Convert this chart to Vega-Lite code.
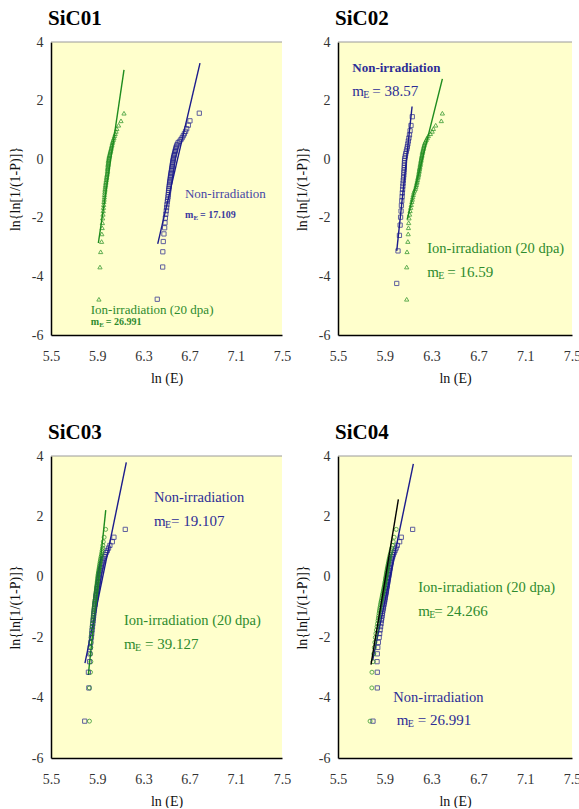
{
"$schema": "https://vega.github.io/schema/vega-lite/v6.json",
"padding": {"left": 8, "top": 8, "right": 0, "bottom": 0},
"background": "white",
"config": {
 "view": {"fill": "#FFFFCC", "stroke": null},
 "font": "Liberation Serif",
 "axis": {"grid": false, "ticks": false, "domainColor": "#000", "domainWidth": 1.5, "labelFont": "Liberation Serif", "labelFontSize": 14, "labelColor": "#333", "titleFont": "Liberation Serif", "titleFontSize": 14, "titleFontWeight": "normal", "titleColor": "#111", "labelOverlap": false, "labelFlush": false},
 "axisX": {"labelPadding": 14, "titlePadding": 8},
 "axisY": {"labelPadding": 8, "titlePadding": 9},
 "title": {"font": "Liberation Serif", "fontSize": 21, "fontWeight": "bold", "anchor": "start", "frame": "group", "color": "#000", "offset": 6, "dx": -3},
 "concat": {"spacing": 4}
},
"datasets": {
"pts": [
{"p":1,"s":"I","x":5.915,"y":-4.78},{"p":1,"s":"I","x":5.924,"y":-3.68},{"p":1,"s":"I","x":5.930,"y":-3.16},{"p":1,"s":"I","x":5.938,"y":-2.81},{"p":1,"s":"I","x":5.940,"y":-2.55},{"p":1,"s":"I","x":5.943,"y":-2.34},{"p":1,"s":"I","x":5.945,"y":-2.17},{"p":1,"s":"I","x":5.947,"y":-2.01},{"p":1,"s":"I","x":5.950,"y":-1.88},{"p":1,"s":"I","x":5.952,"y":-1.76},
{"p":1,"s":"I","x":5.954,"y":-1.65},{"p":1,"s":"I","x":5.956,"y":-1.55},{"p":1,"s":"I","x":5.958,"y":-1.45},{"p":1,"s":"I","x":5.960,"y":-1.37},{"p":1,"s":"I","x":5.962,"y":-1.29},{"p":1,"s":"I","x":5.963,"y":-1.21},{"p":1,"s":"I","x":5.965,"y":-1.13},{"p":1,"s":"I","x":5.967,"y":-1.06},{"p":1,"s":"I","x":5.968,"y":-1.00},{"p":1,"s":"I","x":5.970,"y":-0.93},
{"p":1,"s":"I","x":5.972,"y":-0.87},{"p":1,"s":"I","x":5.974,"y":-0.81},{"p":1,"s":"I","x":5.976,"y":-0.76},{"p":1,"s":"I","x":5.978,"y":-0.70},{"p":1,"s":"I","x":5.980,"y":-0.64},{"p":1,"s":"I","x":5.982,"y":-0.59},{"p":1,"s":"I","x":5.984,"y":-0.54},{"p":1,"s":"I","x":5.986,"y":-0.49},{"p":1,"s":"I","x":5.988,"y":-0.44},{"p":1,"s":"I","x":5.989,"y":-0.39},
{"p":1,"s":"I","x":5.990,"y":-0.34},{"p":1,"s":"I","x":5.991,"y":-0.30},{"p":1,"s":"I","x":5.992,"y":-0.25},{"p":1,"s":"I","x":5.993,"y":-0.20},{"p":1,"s":"I","x":5.994,"y":-0.16},{"p":1,"s":"I","x":5.995,"y":-0.11},{"p":1,"s":"I","x":5.996,"y":-0.06},{"p":1,"s":"I","x":5.998,"y":-0.02},{"p":1,"s":"I","x":6.000,"y":0.03},{"p":1,"s":"I","x":6.002,"y":0.07},
{"p":1,"s":"I","x":6.004,"y":0.12},{"p":1,"s":"I","x":6.007,"y":0.16},{"p":1,"s":"I","x":6.010,"y":0.21},{"p":1,"s":"I","x":6.013,"y":0.26},{"p":1,"s":"I","x":6.016,"y":0.30},{"p":1,"s":"I","x":6.019,"y":0.35},{"p":1,"s":"I","x":6.022,"y":0.40},{"p":1,"s":"I","x":6.025,"y":0.45},{"p":1,"s":"I","x":6.028,"y":0.50},{"p":1,"s":"I","x":6.031,"y":0.56},
{"p":1,"s":"I","x":6.035,"y":0.61},{"p":1,"s":"I","x":6.040,"y":0.67},{"p":1,"s":"I","x":6.045,"y":0.73},{"p":1,"s":"I","x":6.050,"y":0.80},{"p":1,"s":"I","x":6.056,"y":0.87},{"p":1,"s":"I","x":6.063,"y":0.95},{"p":1,"s":"I","x":6.070,"y":1.04},{"p":1,"s":"I","x":6.085,"y":1.16},{"p":1,"s":"I","x":6.106,"y":1.31},{"p":1,"s":"I","x":6.132,"y":1.57},

{"p":1,"s":"N","x":6.420,"y":-4.78},{"p":1,"s":"N","x":6.467,"y":-3.68},{"p":1,"s":"N","x":6.468,"y":-3.16},{"p":1,"s":"N","x":6.472,"y":-2.81},{"p":1,"s":"N","x":6.478,"y":-2.55},{"p":1,"s":"N","x":6.484,"y":-2.34},{"p":1,"s":"N","x":6.487,"y":-2.17},{"p":1,"s":"N","x":6.490,"y":-2.01},{"p":1,"s":"N","x":6.494,"y":-1.88},{"p":1,"s":"N","x":6.498,"y":-1.76},
{"p":1,"s":"N","x":6.501,"y":-1.65},{"p":1,"s":"N","x":6.504,"y":-1.55},{"p":1,"s":"N","x":6.507,"y":-1.45},{"p":1,"s":"N","x":6.510,"y":-1.37},{"p":1,"s":"N","x":6.513,"y":-1.29},{"p":1,"s":"N","x":6.515,"y":-1.21},{"p":1,"s":"N","x":6.517,"y":-1.13},{"p":1,"s":"N","x":6.519,"y":-1.06},{"p":1,"s":"N","x":6.521,"y":-1.00},{"p":1,"s":"N","x":6.523,"y":-0.93},
{"p":1,"s":"N","x":6.525,"y":-0.87},{"p":1,"s":"N","x":6.527,"y":-0.81},{"p":1,"s":"N","x":6.529,"y":-0.76},{"p":1,"s":"N","x":6.531,"y":-0.70},{"p":1,"s":"N","x":6.533,"y":-0.64},{"p":1,"s":"N","x":6.535,"y":-0.59},{"p":1,"s":"N","x":6.537,"y":-0.54},{"p":1,"s":"N","x":6.539,"y":-0.49},{"p":1,"s":"N","x":6.541,"y":-0.44},{"p":1,"s":"N","x":6.543,"y":-0.39},
{"p":1,"s":"N","x":6.545,"y":-0.34},{"p":1,"s":"N","x":6.547,"y":-0.30},{"p":1,"s":"N","x":6.549,"y":-0.25},{"p":1,"s":"N","x":6.550,"y":-0.20},{"p":1,"s":"N","x":6.552,"y":-0.16},{"p":1,"s":"N","x":6.554,"y":-0.11},{"p":1,"s":"N","x":6.556,"y":-0.06},{"p":1,"s":"N","x":6.558,"y":-0.02},{"p":1,"s":"N","x":6.560,"y":0.03},{"p":1,"s":"N","x":6.562,"y":0.07},
{"p":1,"s":"N","x":6.565,"y":0.12},{"p":1,"s":"N","x":6.568,"y":0.16},{"p":1,"s":"N","x":6.571,"y":0.21},{"p":1,"s":"N","x":6.574,"y":0.26},{"p":1,"s":"N","x":6.577,"y":0.30},{"p":1,"s":"N","x":6.580,"y":0.35},{"p":1,"s":"N","x":6.583,"y":0.40},{"p":1,"s":"N","x":6.587,"y":0.45},{"p":1,"s":"N","x":6.592,"y":0.50},{"p":1,"s":"N","x":6.600,"y":0.56},
{"p":1,"s":"N","x":6.612,"y":0.61},{"p":1,"s":"N","x":6.625,"y":0.67},{"p":1,"s":"N","x":6.635,"y":0.73},{"p":1,"s":"N","x":6.645,"y":0.80},{"p":1,"s":"N","x":6.655,"y":0.87},{"p":1,"s":"N","x":6.665,"y":0.95},{"p":1,"s":"N","x":6.675,"y":1.04},{"p":1,"s":"N","x":6.689,"y":1.16},{"p":1,"s":"N","x":6.703,"y":1.31},{"p":1,"s":"N","x":6.784,"y":1.57},

{"p":2,"s":"I","x":6.087,"y":-4.78},{"p":2,"s":"I","x":6.087,"y":-3.68},{"p":2,"s":"I","x":6.090,"y":-3.16},{"p":2,"s":"I","x":6.097,"y":-2.81},{"p":2,"s":"I","x":6.100,"y":-2.55},{"p":2,"s":"I","x":6.102,"y":-2.34},{"p":2,"s":"I","x":6.104,"y":-2.17},{"p":2,"s":"I","x":6.107,"y":-2.01},{"p":2,"s":"I","x":6.112,"y":-1.88},{"p":2,"s":"I","x":6.116,"y":-1.76},
{"p":2,"s":"I","x":6.121,"y":-1.65},{"p":2,"s":"I","x":6.126,"y":-1.55},{"p":2,"s":"I","x":6.131,"y":-1.45},{"p":2,"s":"I","x":6.135,"y":-1.37},{"p":2,"s":"I","x":6.139,"y":-1.29},{"p":2,"s":"I","x":6.143,"y":-1.21},{"p":2,"s":"I","x":6.148,"y":-1.13},{"p":2,"s":"I","x":6.155,"y":-1.06},{"p":2,"s":"I","x":6.162,"y":-1.00},{"p":2,"s":"I","x":6.166,"y":-0.93},
{"p":2,"s":"I","x":6.170,"y":-0.87},{"p":2,"s":"I","x":6.173,"y":-0.81},{"p":2,"s":"I","x":6.176,"y":-0.76},{"p":2,"s":"I","x":6.179,"y":-0.70},{"p":2,"s":"I","x":6.182,"y":-0.64},{"p":2,"s":"I","x":6.185,"y":-0.59},{"p":2,"s":"I","x":6.188,"y":-0.54},{"p":2,"s":"I","x":6.190,"y":-0.49},{"p":2,"s":"I","x":6.192,"y":-0.44},{"p":2,"s":"I","x":6.194,"y":-0.39},
{"p":2,"s":"I","x":6.196,"y":-0.34},{"p":2,"s":"I","x":6.198,"y":-0.30},{"p":2,"s":"I","x":6.200,"y":-0.25},{"p":2,"s":"I","x":6.202,"y":-0.20},{"p":2,"s":"I","x":6.204,"y":-0.16},{"p":2,"s":"I","x":6.206,"y":-0.11},{"p":2,"s":"I","x":6.208,"y":-0.06},{"p":2,"s":"I","x":6.210,"y":-0.02},{"p":2,"s":"I","x":6.212,"y":0.03},{"p":2,"s":"I","x":6.214,"y":0.07},
{"p":2,"s":"I","x":6.216,"y":0.12},{"p":2,"s":"I","x":6.218,"y":0.16},{"p":2,"s":"I","x":6.220,"y":0.21},{"p":2,"s":"I","x":6.222,"y":0.26},{"p":2,"s":"I","x":6.225,"y":0.30},{"p":2,"s":"I","x":6.228,"y":0.35},{"p":2,"s":"I","x":6.231,"y":0.40},{"p":2,"s":"I","x":6.234,"y":0.45},{"p":2,"s":"I","x":6.237,"y":0.50},{"p":2,"s":"I","x":6.242,"y":0.56},
{"p":2,"s":"I","x":6.248,"y":0.61},{"p":2,"s":"I","x":6.255,"y":0.67},{"p":2,"s":"I","x":6.263,"y":0.73},{"p":2,"s":"I","x":6.272,"y":0.80},{"p":2,"s":"I","x":6.290,"y":0.87},{"p":2,"s":"I","x":6.305,"y":0.95},{"p":2,"s":"I","x":6.315,"y":1.04},{"p":2,"s":"I","x":6.335,"y":1.16},{"p":2,"s":"I","x":6.383,"y":1.31},{"p":2,"s":"I","x":6.392,"y":1.57},

{"p":2,"s":"N","x":6.002,"y":-4.24},{"p":2,"s":"N","x":6.013,"y":-3.13},{"p":2,"s":"N","x":6.025,"y":-2.60},{"p":2,"s":"N","x":6.031,"y":-2.25},{"p":2,"s":"N","x":6.035,"y":-1.98},{"p":2,"s":"N","x":6.039,"y":-1.77},{"p":2,"s":"N","x":6.042,"y":-1.58},{"p":2,"s":"N","x":6.045,"y":-1.42},{"p":2,"s":"N","x":6.048,"y":-1.28},{"p":2,"s":"N","x":6.050,"y":-1.15},
{"p":2,"s":"N","x":6.052,"y":-1.03},{"p":2,"s":"N","x":6.054,"y":-0.92},{"p":2,"s":"N","x":6.056,"y":-0.82},{"p":2,"s":"N","x":6.058,"y":-0.72},{"p":2,"s":"N","x":6.060,"y":-0.63},{"p":2,"s":"N","x":6.062,"y":-0.54},{"p":2,"s":"N","x":6.063,"y":-0.45},{"p":2,"s":"N","x":6.065,"y":-0.37},{"p":2,"s":"N","x":6.066,"y":-0.29},{"p":2,"s":"N","x":6.067,"y":-0.21},
{"p":2,"s":"N","x":6.068,"y":-0.13},{"p":2,"s":"N","x":6.069,"y":-0.05},{"p":2,"s":"N","x":6.071,"y":0.03},{"p":2,"s":"N","x":6.075,"y":0.11},{"p":2,"s":"N","x":6.079,"y":0.19},{"p":2,"s":"N","x":6.084,"y":0.27},{"p":2,"s":"N","x":6.089,"y":0.35},{"p":2,"s":"N","x":6.093,"y":0.43},{"p":2,"s":"N","x":6.097,"y":0.52},{"p":2,"s":"N","x":6.101,"y":0.62},
{"p":2,"s":"N","x":6.106,"y":0.72},{"p":2,"s":"N","x":6.111,"y":0.83},{"p":2,"s":"N","x":6.116,"y":0.97},{"p":2,"s":"N","x":6.124,"y":1.15},{"p":2,"s":"N","x":6.135,"y":1.45},

{"p":3,"s":"I","x":5.833,"y":-4.78},{"p":3,"s":"I","x":5.832,"y":-3.68},{"p":3,"s":"I","x":5.842,"y":-3.16},{"p":3,"s":"I","x":5.845,"y":-2.81},{"p":3,"s":"I","x":5.843,"y":-2.55},{"p":3,"s":"I","x":5.845,"y":-2.34},{"p":3,"s":"I","x":5.846,"y":-2.17},{"p":3,"s":"I","x":5.848,"y":-2.01},{"p":3,"s":"I","x":5.851,"y":-1.88},{"p":3,"s":"I","x":5.854,"y":-1.76},
{"p":3,"s":"I","x":5.856,"y":-1.65},{"p":3,"s":"I","x":5.859,"y":-1.55},{"p":3,"s":"I","x":5.862,"y":-1.45},{"p":3,"s":"I","x":5.864,"y":-1.37},{"p":3,"s":"I","x":5.866,"y":-1.29},{"p":3,"s":"I","x":5.868,"y":-1.21},{"p":3,"s":"I","x":5.870,"y":-1.13},{"p":3,"s":"I","x":5.872,"y":-1.06},{"p":3,"s":"I","x":5.874,"y":-1.00},{"p":3,"s":"I","x":5.876,"y":-0.93},
{"p":3,"s":"I","x":5.878,"y":-0.87},{"p":3,"s":"I","x":5.880,"y":-0.81},{"p":3,"s":"I","x":5.882,"y":-0.76},{"p":3,"s":"I","x":5.884,"y":-0.70},{"p":3,"s":"I","x":5.886,"y":-0.64},{"p":3,"s":"I","x":5.888,"y":-0.59},{"p":3,"s":"I","x":5.889,"y":-0.54},{"p":3,"s":"I","x":5.891,"y":-0.49},{"p":3,"s":"I","x":5.892,"y":-0.44},{"p":3,"s":"I","x":5.894,"y":-0.39},
{"p":3,"s":"I","x":5.895,"y":-0.34},{"p":3,"s":"I","x":5.897,"y":-0.30},{"p":3,"s":"I","x":5.898,"y":-0.25},{"p":3,"s":"I","x":5.900,"y":-0.20},{"p":3,"s":"I","x":5.901,"y":-0.16},{"p":3,"s":"I","x":5.903,"y":-0.11},{"p":3,"s":"I","x":5.904,"y":-0.06},{"p":3,"s":"I","x":5.905,"y":-0.02},{"p":3,"s":"I","x":5.907,"y":0.03},{"p":3,"s":"I","x":5.908,"y":0.07},
{"p":3,"s":"I","x":5.910,"y":0.12},{"p":3,"s":"I","x":5.912,"y":0.16},{"p":3,"s":"I","x":5.914,"y":0.21},{"p":3,"s":"I","x":5.916,"y":0.26},{"p":3,"s":"I","x":5.918,"y":0.30},{"p":3,"s":"I","x":5.920,"y":0.35},{"p":3,"s":"I","x":5.922,"y":0.40},{"p":3,"s":"I","x":5.924,"y":0.45},{"p":3,"s":"I","x":5.926,"y":0.50},{"p":3,"s":"I","x":5.929,"y":0.56},
{"p":3,"s":"I","x":5.931,"y":0.61},{"p":3,"s":"I","x":5.934,"y":0.67},{"p":3,"s":"I","x":5.937,"y":0.73},{"p":3,"s":"I","x":5.940,"y":0.80},{"p":3,"s":"I","x":5.943,"y":0.87},{"p":3,"s":"I","x":5.946,"y":0.95},{"p":3,"s":"I","x":5.949,"y":1.04},{"p":3,"s":"I","x":5.953,"y":1.16},{"p":3,"s":"I","x":5.960,"y":1.31},{"p":3,"s":"I","x":5.973,"y":1.57},

{"p":3,"s":"N","x":5.792,"y":-4.78},{"p":3,"s":"N","x":5.828,"y":-3.68},{"p":3,"s":"N","x":5.824,"y":-3.16},{"p":3,"s":"N","x":5.834,"y":-2.81},{"p":3,"s":"N","x":5.836,"y":-2.55},{"p":3,"s":"N","x":5.840,"y":-2.34},{"p":3,"s":"N","x":5.845,"y":-2.17},{"p":3,"s":"N","x":5.850,"y":-2.01},{"p":3,"s":"N","x":5.853,"y":-1.88},{"p":3,"s":"N","x":5.856,"y":-1.76},
{"p":3,"s":"N","x":5.859,"y":-1.65},{"p":3,"s":"N","x":5.862,"y":-1.55},{"p":3,"s":"N","x":5.865,"y":-1.45},{"p":3,"s":"N","x":5.867,"y":-1.37},{"p":3,"s":"N","x":5.869,"y":-1.29},{"p":3,"s":"N","x":5.871,"y":-1.21},{"p":3,"s":"N","x":5.874,"y":-1.13},{"p":3,"s":"N","x":5.876,"y":-1.06},{"p":3,"s":"N","x":5.878,"y":-1.00},{"p":3,"s":"N","x":5.880,"y":-0.93},
{"p":3,"s":"N","x":5.882,"y":-0.87},{"p":3,"s":"N","x":5.884,"y":-0.81},{"p":3,"s":"N","x":5.886,"y":-0.76},{"p":3,"s":"N","x":5.888,"y":-0.70},{"p":3,"s":"N","x":5.890,"y":-0.64},{"p":3,"s":"N","x":5.892,"y":-0.59},{"p":3,"s":"N","x":5.894,"y":-0.54},{"p":3,"s":"N","x":5.896,"y":-0.49},{"p":3,"s":"N","x":5.898,"y":-0.44},{"p":3,"s":"N","x":5.900,"y":-0.39},
{"p":3,"s":"N","x":5.902,"y":-0.34},{"p":3,"s":"N","x":5.904,"y":-0.30},{"p":3,"s":"N","x":5.906,"y":-0.25},{"p":3,"s":"N","x":5.908,"y":-0.20},{"p":3,"s":"N","x":5.910,"y":-0.16},{"p":3,"s":"N","x":5.912,"y":-0.11},{"p":3,"s":"N","x":5.914,"y":-0.06},{"p":3,"s":"N","x":5.916,"y":-0.02},{"p":3,"s":"N","x":5.918,"y":0.03},{"p":3,"s":"N","x":5.920,"y":0.07},
{"p":3,"s":"N","x":5.922,"y":0.12},{"p":3,"s":"N","x":5.924,"y":0.16},{"p":3,"s":"N","x":5.927,"y":0.21},{"p":3,"s":"N","x":5.930,"y":0.26},{"p":3,"s":"N","x":5.933,"y":0.30},{"p":3,"s":"N","x":5.936,"y":0.35},{"p":3,"s":"N","x":5.939,"y":0.40},{"p":3,"s":"N","x":5.942,"y":0.45},{"p":3,"s":"N","x":5.946,"y":0.50},{"p":3,"s":"N","x":5.950,"y":0.56},
{"p":3,"s":"N","x":5.956,"y":0.61},{"p":3,"s":"N","x":5.963,"y":0.67},{"p":3,"s":"N","x":5.970,"y":0.73},{"p":3,"s":"N","x":5.978,"y":0.80},{"p":3,"s":"N","x":5.988,"y":0.87},{"p":3,"s":"N","x":5.998,"y":0.95},{"p":3,"s":"N","x":6.010,"y":1.04},{"p":3,"s":"N","x":6.031,"y":1.16},{"p":3,"s":"N","x":6.045,"y":1.31},{"p":3,"s":"N","x":6.143,"y":1.57},

{"p":4,"s":"I","x":5.774,"y":-4.78},{"p":4,"s":"I","x":5.789,"y":-3.68},{"p":4,"s":"I","x":5.790,"y":-3.16},{"p":4,"s":"I","x":5.800,"y":-2.81},{"p":4,"s":"I","x":5.806,"y":-2.55},{"p":4,"s":"I","x":5.811,"y":-2.34},{"p":4,"s":"I","x":5.815,"y":-2.17},{"p":4,"s":"I","x":5.819,"y":-2.01},{"p":4,"s":"I","x":5.824,"y":-1.88},{"p":4,"s":"I","x":5.829,"y":-1.76},
{"p":4,"s":"I","x":5.834,"y":-1.65},{"p":4,"s":"I","x":5.838,"y":-1.55},{"p":4,"s":"I","x":5.842,"y":-1.45},{"p":4,"s":"I","x":5.845,"y":-1.37},{"p":4,"s":"I","x":5.848,"y":-1.29},{"p":4,"s":"I","x":5.851,"y":-1.21},{"p":4,"s":"I","x":5.854,"y":-1.13},{"p":4,"s":"I","x":5.857,"y":-1.06},{"p":4,"s":"I","x":5.860,"y":-1.00},{"p":4,"s":"I","x":5.863,"y":-0.93},
{"p":4,"s":"I","x":5.866,"y":-0.87},{"p":4,"s":"I","x":5.869,"y":-0.81},{"p":4,"s":"I","x":5.872,"y":-0.76},{"p":4,"s":"I","x":5.875,"y":-0.70},{"p":4,"s":"I","x":5.878,"y":-0.64},{"p":4,"s":"I","x":5.881,"y":-0.59},{"p":4,"s":"I","x":5.884,"y":-0.54},{"p":4,"s":"I","x":5.887,"y":-0.49},{"p":4,"s":"I","x":5.889,"y":-0.44},{"p":4,"s":"I","x":5.892,"y":-0.39},
{"p":4,"s":"I","x":5.894,"y":-0.34},{"p":4,"s":"I","x":5.897,"y":-0.30},{"p":4,"s":"I","x":5.899,"y":-0.25},{"p":4,"s":"I","x":5.901,"y":-0.20},{"p":4,"s":"I","x":5.903,"y":-0.16},{"p":4,"s":"I","x":5.905,"y":-0.11},{"p":4,"s":"I","x":5.907,"y":-0.06},{"p":4,"s":"I","x":5.909,"y":-0.02},{"p":4,"s":"I","x":5.911,"y":0.03},{"p":4,"s":"I","x":5.913,"y":0.07},
{"p":4,"s":"I","x":5.915,"y":0.12},{"p":4,"s":"I","x":5.917,"y":0.16},{"p":4,"s":"I","x":5.919,"y":0.21},{"p":4,"s":"I","x":5.921,"y":0.26},{"p":4,"s":"I","x":5.923,"y":0.30},{"p":4,"s":"I","x":5.926,"y":0.35},{"p":4,"s":"I","x":5.928,"y":0.40},{"p":4,"s":"I","x":5.931,"y":0.45},{"p":4,"s":"I","x":5.933,"y":0.50},{"p":4,"s":"I","x":5.936,"y":0.56},
{"p":4,"s":"I","x":5.939,"y":0.61},{"p":4,"s":"I","x":5.942,"y":0.67},{"p":4,"s":"I","x":5.946,"y":0.73},{"p":4,"s":"I","x":5.950,"y":0.80},{"p":4,"s":"I","x":5.955,"y":0.87},{"p":4,"s":"I","x":5.960,"y":0.95},{"p":4,"s":"I","x":5.966,"y":1.04},{"p":4,"s":"I","x":5.972,"y":1.16},{"p":4,"s":"I","x":5.980,"y":1.31},{"p":4,"s":"I","x":5.998,"y":1.57},

{"p":4,"s":"N","x":5.799,"y":-4.78},{"p":4,"s":"N","x":5.836,"y":-3.68},{"p":4,"s":"N","x":5.836,"y":-3.16},{"p":4,"s":"N","x":5.834,"y":-2.81},{"p":4,"s":"N","x":5.836,"y":-2.55},{"p":4,"s":"N","x":5.840,"y":-2.34},{"p":4,"s":"N","x":5.845,"y":-2.17},{"p":4,"s":"N","x":5.852,"y":-2.01},{"p":4,"s":"N","x":5.856,"y":-1.88},{"p":4,"s":"N","x":5.860,"y":-1.76},
{"p":4,"s":"N","x":5.864,"y":-1.65},{"p":4,"s":"N","x":5.868,"y":-1.55},{"p":4,"s":"N","x":5.871,"y":-1.45},{"p":4,"s":"N","x":5.874,"y":-1.37},{"p":4,"s":"N","x":5.877,"y":-1.29},{"p":4,"s":"N","x":5.880,"y":-1.21},{"p":4,"s":"N","x":5.883,"y":-1.13},{"p":4,"s":"N","x":5.886,"y":-1.06},{"p":4,"s":"N","x":5.889,"y":-1.00},{"p":4,"s":"N","x":5.892,"y":-0.93},
{"p":4,"s":"N","x":5.895,"y":-0.87},{"p":4,"s":"N","x":5.898,"y":-0.81},{"p":4,"s":"N","x":5.900,"y":-0.76},{"p":4,"s":"N","x":5.903,"y":-0.70},{"p":4,"s":"N","x":5.905,"y":-0.64},{"p":4,"s":"N","x":5.908,"y":-0.59},{"p":4,"s":"N","x":5.910,"y":-0.54},{"p":4,"s":"N","x":5.912,"y":-0.49},{"p":4,"s":"N","x":5.914,"y":-0.44},{"p":4,"s":"N","x":5.916,"y":-0.39},
{"p":4,"s":"N","x":5.918,"y":-0.34},{"p":4,"s":"N","x":5.920,"y":-0.30},{"p":4,"s":"N","x":5.922,"y":-0.25},{"p":4,"s":"N","x":5.924,"y":-0.20},{"p":4,"s":"N","x":5.926,"y":-0.16},{"p":4,"s":"N","x":5.928,"y":-0.11},{"p":4,"s":"N","x":5.930,"y":-0.06},{"p":4,"s":"N","x":5.932,"y":-0.02},{"p":4,"s":"N","x":5.934,"y":0.03},{"p":4,"s":"N","x":5.936,"y":0.07},
{"p":4,"s":"N","x":5.938,"y":0.12},{"p":4,"s":"N","x":5.940,"y":0.16},{"p":4,"s":"N","x":5.942,"y":0.21},{"p":4,"s":"N","x":5.944,"y":0.26},{"p":4,"s":"N","x":5.946,"y":0.30},{"p":4,"s":"N","x":5.948,"y":0.35},{"p":4,"s":"N","x":5.951,"y":0.40},{"p":4,"s":"N","x":5.953,"y":0.45},{"p":4,"s":"N","x":5.956,"y":0.50},{"p":4,"s":"N","x":5.959,"y":0.56},
{"p":4,"s":"N","x":5.962,"y":0.61},{"p":4,"s":"N","x":5.967,"y":0.67},{"p":4,"s":"N","x":5.973,"y":0.73},{"p":4,"s":"N","x":5.980,"y":0.80},{"p":4,"s":"N","x":5.988,"y":0.87},{"p":4,"s":"N","x":5.997,"y":0.95},{"p":4,"s":"N","x":6.007,"y":1.04},{"p":4,"s":"N","x":6.027,"y":1.16},{"p":4,"s":"N","x":6.041,"y":1.31},{"p":4,"s":"N","x":6.138,"y":1.57}
],
"fits": [
{"p":1,"s":"I","x":5.910,"y":-2.86},{"p":1,"s":"I","x":6.132,"y":3.05},
{"p":1,"s":"N","x":6.424,"y":-2.89},{"p":1,"s":"N","x":6.790,"y":3.28},
{"p":2,"s":"N","x":6.002,"y":-3.13},{"p":2,"s":"N","x":6.133,"y":1.80},
{"p":2,"s":"I","x":6.092,"y":-2.05},{"p":2,"s":"I","x":6.392,"y":2.74},
{"p":3,"s":"N","x":5.794,"y":-2.86},{"p":3,"s":"N","x":6.152,"y":3.79},
{"p":3,"s":"I","x":5.823,"y":-3.25},{"p":3,"s":"I","x":5.974,"y":2.21},
{"p":4,"s":"N","x":5.796,"y":-2.77},{"p":4,"s":"N","x":6.144,"y":3.74},
{"p":4,"s":"I","x":5.782,"y":-2.91},{"p":4,"s":"I","x":6.016,"y":2.56}
]
},
"vconcat": [
{"hconcat": [
{"width": 231, "height": 293, "title": {"text": "SiC01"},
 "layer": [
  {"data": {"values": [{}]}, "mark": {"type": "rule", "color": "#9a9a9a", "strokeWidth": 1}, "encoding": {"y": {"datum": 4, "type": "quantitative", "scale": {"domain": [-6, 4], "nice": false, "zero": false}}}},
  {"data": {"name": "fits"}, "transform": [{"filter": "datum.p==1 && datum.s=='I'"}], "mark": {"type": "line", "color": "#1E8C1E", "strokeWidth": 1.4}, "encoding": {"x": {"field": "x", "type": "quantitative", "scale": {"domain": [5.5, 7.5], "nice": false, "zero": false}, "axis": {"title": "ln (E)", "values": [5.5, 5.9, 6.3, 6.7, 7.1, 7.5], "labelExpr": "format(datum.value,'.1f')"}}, "y": {"field": "y", "type": "quantitative", "scale": {"domain": [-6, 4], "nice": false, "zero": false}, "axis": {"title": "ln{ln[1/(1-P)]}", "values": [-6, -4, -2, 0, 2, 4], "labelExpr": "datum.value+''"}}}},
  {"data": {"name": "fits"}, "transform": [{"filter": "datum.p==1 && datum.s=='N'"}], "mark": {"type": "line", "color": "#1C1C8C", "strokeWidth": 1.4}, "encoding": {"x": {"field": "x", "type": "quantitative", "title": "ln (E)"}, "y": {"field": "y", "type": "quantitative", "title": "ln{ln[1/(1-P)]}"}}},
  {"data": {"name": "pts"}, "transform": [{"filter": "datum.p==1 && datum.s=='I'"}], "mark": {"type": "point", "shape": "triangle-up", "filled": false, "color": "#1E8C1E", "size": 18, "strokeWidth": 1}, "encoding": {"x": {"field": "x", "type": "quantitative", "title": "ln (E)"}, "y": {"field": "y", "type": "quantitative", "title": "ln{ln[1/(1-P)]}"}}},
  {"data": {"name": "pts"}, "transform": [{"filter": "datum.p==1 && datum.s=='N'"}], "mark": {"type": "point", "shape": "square", "filled": false, "color": "#1C1C8C", "size": 18, "strokeWidth": 1}, "encoding": {"x": {"field": "x", "type": "quantitative", "title": "ln (E)"}, "y": {"field": "y", "type": "quantitative", "title": "ln{ln[1/(1-P)]}"}}},
  {"data": {"values": [{}]}, "mark": {"type": "text", "align": "left", "baseline": "alphabetic", "font": "Liberation Serif", "fontSize": 13, "color": "#4646A6"}, "encoding": {"x": {"datum": 6.66}, "y": {"datum": -1.34}, "text": {"value": "Non-irradiation"}}},
  {"data": {"values": [{}]}, "mark": {"type": "text", "align": "left", "baseline": "alphabetic", "font": "Liberation Serif", "fontSize": 10, "fontWeight": "bold", "color": "#3A3A9E"}, "encoding": {"x": {"datum": 6.66}, "y": {"datum": -2.0}, "text": {"value": "m"}}},
  {"data": {"values": [{}]}, "mark": {"type": "text", "align": "left", "baseline": "alphabetic", "font": "Liberation Serif", "fontSize": 7, "fontWeight": "bold", "color": "#3A3A9E", "dx": 8.5, "dy": 2}, "encoding": {"x": {"datum": 6.66}, "y": {"datum": -2.0}, "text": {"value": "E"}}},
  {"data": {"values": [{}]}, "mark": {"type": "text", "align": "left", "baseline": "alphabetic", "font": "Liberation Serif", "fontSize": 10, "fontWeight": "bold", "color": "#3A3A9E", "dx": 15}, "encoding": {"x": {"datum": 6.66}, "y": {"datum": -2.0}, "text": {"value": "= 17.109"}}},
  {"data": {"values": [{}]}, "mark": {"type": "text", "align": "left", "baseline": "alphabetic", "font": "Liberation Serif", "fontSize": 13, "color": "#2E8B2E"}, "encoding": {"x": {"datum": 5.844}, "y": {"datum": -5.28}, "text": {"value": "Ion-irradiation (20 dpa)"}}},
  {"data": {"values": [{}]}, "mark": {"type": "text", "align": "left", "baseline": "alphabetic", "font": "Liberation Serif", "fontSize": 10, "fontWeight": "bold", "color": "#2E8B2E"}, "encoding": {"x": {"datum": 5.844}, "y": {"datum": -5.66}, "text": {"value": "m"}}},
  {"data": {"values": [{}]}, "mark": {"type": "text", "align": "left", "baseline": "alphabetic", "font": "Liberation Serif", "fontSize": 7, "fontWeight": "bold", "color": "#2E8B2E", "dx": 8.5, "dy": 2}, "encoding": {"x": {"datum": 5.844}, "y": {"datum": -5.66}, "text": {"value": "E"}}},
  {"data": {"values": [{}]}, "mark": {"type": "text", "align": "left", "baseline": "alphabetic", "font": "Liberation Serif", "fontSize": 10, "fontWeight": "bold", "color": "#2E8B2E", "dx": 15}, "encoding": {"x": {"datum": 5.844}, "y": {"datum": -5.66}, "text": {"value": "= 26.991"}}}
 ]},
{"width": 234, "height": 293, "title": {"text": "SiC02"},
 "layer": [
  {"data": {"values": [{}]}, "mark": {"type": "rule", "color": "#9a9a9a", "strokeWidth": 1}, "encoding": {"y": {"datum": 4, "type": "quantitative", "scale": {"domain": [-6, 4], "nice": false, "zero": false}}}},
  {"data": {"name": "fits"}, "transform": [{"filter": "datum.p==2 && datum.s=='I'"}], "mark": {"type": "line", "color": "#1E8C1E", "strokeWidth": 1.4}, "encoding": {"x": {"field": "x", "type": "quantitative", "scale": {"domain": [5.5, 7.5], "nice": false, "zero": false}, "axis": {"title": "ln (E)", "values": [5.5, 5.9, 6.3, 6.7, 7.1, 7.5], "labelExpr": "format(datum.value,'.1f')"}}, "y": {"field": "y", "type": "quantitative", "scale": {"domain": [-6, 4], "nice": false, "zero": false}, "axis": {"title": "ln{ln[1/(1-P)]}", "values": [-6, -4, -2, 0, 2, 4], "labelExpr": "datum.value+''"}}}},
  {"data": {"name": "fits"}, "transform": [{"filter": "datum.p==2 && datum.s=='N'"}], "mark": {"type": "line", "color": "#1C1C8C", "strokeWidth": 1.4}, "encoding": {"x": {"field": "x", "type": "quantitative", "title": "ln (E)"}, "y": {"field": "y", "type": "quantitative", "title": "ln{ln[1/(1-P)]}"}}},
  {"data": {"name": "pts"}, "transform": [{"filter": "datum.p==2 && datum.s=='I'"}], "mark": {"type": "point", "shape": "triangle-up", "filled": false, "color": "#1E8C1E", "size": 18, "strokeWidth": 1}, "encoding": {"x": {"field": "x", "type": "quantitative", "title": "ln (E)"}, "y": {"field": "y", "type": "quantitative", "title": "ln{ln[1/(1-P)]}"}}},
  {"data": {"name": "pts"}, "transform": [{"filter": "datum.p==2 && datum.s=='N'"}], "mark": {"type": "point", "shape": "square", "filled": false, "color": "#1C1C8C", "size": 18, "strokeWidth": 1}, "encoding": {"x": {"field": "x", "type": "quantitative", "title": "ln (E)"}, "y": {"field": "y", "type": "quantitative", "title": "ln{ln[1/(1-P)]}"}}},
  {"data": {"values": [{}]}, "mark": {"type": "text", "align": "left", "baseline": "alphabetic", "font": "Liberation Serif", "fontSize": 13, "fontWeight": "bold", "color": "#2D2D96"}, "encoding": {"x": {"datum": 5.622}, "y": {"datum": 2.96}, "text": {"value": "Non-irradiation"}}},
  {"data": {"values": [{}]}, "mark": {"type": "text", "align": "left", "baseline": "alphabetic", "font": "Liberation Serif", "fontSize": 15, "color": "#2D2D96"}, "encoding": {"x": {"datum": 5.622}, "y": {"datum": 2.16}, "text": {"value": "m"}}},
  {"data": {"values": [{}]}, "mark": {"type": "text", "align": "left", "baseline": "alphabetic", "font": "Liberation Serif", "fontSize": 10, "color": "#2D2D96", "dx": 11, "dy": 2}, "encoding": {"x": {"datum": 5.622}, "y": {"datum": 2.16}, "text": {"value": "E"}}},
  {"data": {"values": [{}]}, "mark": {"type": "text", "align": "left", "baseline": "alphabetic", "font": "Liberation Serif", "fontSize": 15, "color": "#2D2D96", "dx": 20}, "encoding": {"x": {"datum": 5.622}, "y": {"datum": 2.16}, "text": {"value": "= 38.57"}}},
  {"data": {"values": [{}]}, "mark": {"type": "text", "align": "left", "baseline": "alphabetic", "font": "Liberation Serif", "fontSize": 14.5, "color": "#2E8B2E"}, "encoding": {"x": {"datum": 6.263}, "y": {"datum": -3.21}, "text": {"value": "Ion-irradiation (20 dpa)"}}},
  {"data": {"values": [{}]}, "mark": {"type": "text", "align": "left", "baseline": "alphabetic", "font": "Liberation Serif", "fontSize": 15, "color": "#2E8B2E"}, "encoding": {"x": {"datum": 6.263}, "y": {"datum": -4.02}, "text": {"value": "m"}}},
  {"data": {"values": [{}]}, "mark": {"type": "text", "align": "left", "baseline": "alphabetic", "font": "Liberation Serif", "fontSize": 10, "color": "#2E8B2E", "dx": 11, "dy": 2}, "encoding": {"x": {"datum": 6.263}, "y": {"datum": -4.02}, "text": {"value": "E"}}},
  {"data": {"values": [{}]}, "mark": {"type": "text", "align": "left", "baseline": "alphabetic", "font": "Liberation Serif", "fontSize": 15, "color": "#2E8B2E", "dx": 20}, "encoding": {"x": {"datum": 6.263}, "y": {"datum": -4.02}, "text": {"value": "= 16.59"}}}
 ]}
]},
{"hconcat": [
{"width": 231, "height": 302, "title": {"text": "SiC03"},
 "layer": [
  {"data": {"values": [{}]}, "mark": {"type": "rule", "color": "#9a9a9a", "strokeWidth": 1}, "encoding": {"y": {"datum": 4, "type": "quantitative", "scale": {"domain": [-6, 4], "nice": false, "zero": false}}}},
  {"data": {"name": "fits"}, "transform": [{"filter": "datum.p==3 && datum.s=='I'"}], "mark": {"type": "line", "color": "#1E8C1E", "strokeWidth": 1.4}, "encoding": {"x": {"field": "x", "type": "quantitative", "scale": {"domain": [5.5, 7.5], "nice": false, "zero": false}, "axis": {"title": "ln (E)", "values": [5.5, 5.9, 6.3, 6.7, 7.1, 7.5], "labelExpr": "format(datum.value,'.1f')"}}, "y": {"field": "y", "type": "quantitative", "scale": {"domain": [-6, 4], "nice": false, "zero": false}, "axis": {"title": "ln{ln[1/(1-P)]}", "values": [-6, -4, -2, 0, 2, 4], "labelExpr": "datum.value+''"}}}},
  {"data": {"name": "fits"}, "transform": [{"filter": "datum.p==3 && datum.s=='N'"}], "mark": {"type": "line", "color": "#1C1C8C", "strokeWidth": 1.4}, "encoding": {"x": {"field": "x", "type": "quantitative", "title": "ln (E)"}, "y": {"field": "y", "type": "quantitative", "title": "ln{ln[1/(1-P)]}"}}},
  {"data": {"name": "pts"}, "transform": [{"filter": "datum.p==3 && datum.s=='N'"}], "mark": {"type": "point", "shape": "square", "filled": false, "color": "#1C1C8C", "size": 18, "strokeWidth": 1}, "encoding": {"x": {"field": "x", "type": "quantitative", "title": "ln (E)"}, "y": {"field": "y", "type": "quantitative", "title": "ln{ln[1/(1-P)]}"}}},
  {"data": {"name": "pts"}, "transform": [{"filter": "datum.p==3 && datum.s=='I'"}], "mark": {"type": "point", "shape": "circle", "filled": false, "color": "#1E8C1E", "size": 16, "strokeWidth": 1}, "encoding": {"x": {"field": "x", "type": "quantitative", "title": "ln (E)"}, "y": {"field": "y", "type": "quantitative", "title": "ln{ln[1/(1-P)]}"}}},
  {"data": {"values": [{}]}, "mark": {"type": "text", "align": "left", "baseline": "alphabetic", "font": "Liberation Serif", "fontSize": 14.5, "color": "#2D2D96"}, "encoding": {"x": {"datum": 6.392}, "y": {"datum": 2.49}, "text": {"value": "Non-irradiation"}}},
  {"data": {"values": [{}]}, "mark": {"type": "text", "align": "left", "baseline": "alphabetic", "font": "Liberation Serif", "fontSize": 15, "color": "#2D2D96"}, "encoding": {"x": {"datum": 6.392}, "y": {"datum": 1.68}, "text": {"value": "m"}}},
  {"data": {"values": [{}]}, "mark": {"type": "text", "align": "left", "baseline": "alphabetic", "font": "Liberation Serif", "fontSize": 10, "color": "#2D2D96", "dx": 11, "dy": 2}, "encoding": {"x": {"datum": 6.392}, "y": {"datum": 1.68}, "text": {"value": "E"}}},
  {"data": {"values": [{}]}, "mark": {"type": "text", "align": "left", "baseline": "alphabetic", "font": "Liberation Serif", "fontSize": 15, "color": "#2D2D96", "dx": 17}, "encoding": {"x": {"datum": 6.392}, "y": {"datum": 1.68}, "text": {"value": "= 19.107"}}},
  {"data": {"values": [{}]}, "mark": {"type": "text", "align": "left", "baseline": "alphabetic", "font": "Liberation Serif", "fontSize": 14.5, "color": "#2E8B2E"}, "encoding": {"x": {"datum": 6.132}, "y": {"datum": -1.6}, "text": {"value": "Ion-irradiation (20 dpa)"}}},
  {"data": {"values": [{}]}, "mark": {"type": "text", "align": "left", "baseline": "alphabetic", "font": "Liberation Serif", "fontSize": 15, "color": "#2E8B2E"}, "encoding": {"x": {"datum": 6.132}, "y": {"datum": -2.4}, "text": {"value": "m"}}},
  {"data": {"values": [{}]}, "mark": {"type": "text", "align": "left", "baseline": "alphabetic", "font": "Liberation Serif", "fontSize": 10, "color": "#2E8B2E", "dx": 11, "dy": 2}, "encoding": {"x": {"datum": 6.132}, "y": {"datum": -2.4}, "text": {"value": "E"}}},
  {"data": {"values": [{}]}, "mark": {"type": "text", "align": "left", "baseline": "alphabetic", "font": "Liberation Serif", "fontSize": 15, "color": "#2E8B2E", "dx": 21}, "encoding": {"x": {"datum": 6.132}, "y": {"datum": -2.4}, "text": {"value": "= 39.127"}}}
 ]},
{"width": 234, "height": 302, "title": {"text": "SiC04"},
 "layer": [
  {"data": {"values": [{}]}, "mark": {"type": "rule", "color": "#9a9a9a", "strokeWidth": 1}, "encoding": {"y": {"datum": 4, "type": "quantitative", "scale": {"domain": [-6, 4], "nice": false, "zero": false}}}},
  {"data": {"name": "fits"}, "transform": [{"filter": "datum.p==4 && datum.s=='N'"}], "mark": {"type": "line", "color": "#1C1C8C", "strokeWidth": 1.4}, "encoding": {"x": {"field": "x", "type": "quantitative", "scale": {"domain": [5.5, 7.5], "nice": false, "zero": false}, "axis": {"title": "ln (E)", "values": [5.5, 5.9, 6.3, 6.7, 7.1, 7.5], "labelExpr": "format(datum.value,'.1f')"}}, "y": {"field": "y", "type": "quantitative", "scale": {"domain": [-6, 4], "nice": false, "zero": false}, "axis": {"title": "ln{ln[1/(1-P)]}", "values": [-6, -4, -2, 0, 2, 4], "labelExpr": "datum.value+''"}}}},
  {"data": {"name": "pts"}, "transform": [{"filter": "datum.p==4 && datum.s=='N'"}], "mark": {"type": "point", "shape": "square", "filled": false, "color": "#1C1C8C", "size": 18, "strokeWidth": 1}, "encoding": {"x": {"field": "x", "type": "quantitative", "title": "ln (E)"}, "y": {"field": "y", "type": "quantitative", "title": "ln{ln[1/(1-P)]}"}}},
  {"data": {"name": "pts"}, "transform": [{"filter": "datum.p==4 && datum.s=='I'"}], "mark": {"type": "point", "shape": "circle", "filled": false, "color": "#1E8C1E", "size": 16, "strokeWidth": 1}, "encoding": {"x": {"field": "x", "type": "quantitative", "title": "ln (E)"}, "y": {"field": "y", "type": "quantitative", "title": "ln{ln[1/(1-P)]}"}}},
  {"data": {"name": "fits"}, "transform": [{"filter": "datum.p==4 && datum.s=='I'"}], "mark": {"type": "line", "color": "#000000", "strokeWidth": 1.4}, "encoding": {"x": {"field": "x", "type": "quantitative", "title": "ln (E)"}, "y": {"field": "y", "type": "quantitative", "title": "ln{ln[1/(1-P)]}"}}},
  {"data": {"values": [{}]}, "mark": {"type": "text", "align": "left", "baseline": "alphabetic", "font": "Liberation Serif", "fontSize": 14.5, "color": "#2E8B2E"}, "encoding": {"x": {"datum": 6.186}, "y": {"datum": -0.5}, "text": {"value": "Ion-irradiation (20 dpa)"}}},
  {"data": {"values": [{}]}, "mark": {"type": "text", "align": "left", "baseline": "alphabetic", "font": "Liberation Serif", "fontSize": 15, "color": "#2E8B2E"}, "encoding": {"x": {"datum": 6.186}, "y": {"datum": -1.3}, "text": {"value": "m"}}},
  {"data": {"values": [{}]}, "mark": {"type": "text", "align": "left", "baseline": "alphabetic", "font": "Liberation Serif", "fontSize": 10, "color": "#2E8B2E", "dx": 11, "dy": 2}, "encoding": {"x": {"datum": 6.186}, "y": {"datum": -1.3}, "text": {"value": "E"}}},
  {"data": {"values": [{}]}, "mark": {"type": "text", "align": "left", "baseline": "alphabetic", "font": "Liberation Serif", "fontSize": 15, "color": "#2E8B2E", "dx": 16}, "encoding": {"x": {"datum": 6.186}, "y": {"datum": -1.3}, "text": {"value": "= 24.266"}}},
  {"data": {"values": [{}]}, "mark": {"type": "text", "align": "left", "baseline": "alphabetic", "font": "Liberation Serif", "fontSize": 14.5, "color": "#2D2D96"}, "encoding": {"x": {"datum": 5.973}, "y": {"datum": -4.15}, "text": {"value": "Non-irradiation"}}},
  {"data": {"values": [{}]}, "mark": {"type": "text", "align": "left", "baseline": "alphabetic", "font": "Liberation Serif", "fontSize": 15, "color": "#2D2D96"}, "encoding": {"x": {"datum": 6.002}, "y": {"datum": -4.92}, "text": {"value": "m"}}},
  {"data": {"values": [{}]}, "mark": {"type": "text", "align": "left", "baseline": "alphabetic", "font": "Liberation Serif", "fontSize": 10, "color": "#2D2D96", "dx": 11, "dy": 2}, "encoding": {"x": {"datum": 6.002}, "y": {"datum": -4.92}, "text": {"value": "E"}}},
  {"data": {"values": [{}]}, "mark": {"type": "text", "align": "left", "baseline": "alphabetic", "font": "Liberation Serif", "fontSize": 15, "color": "#2D2D96", "dx": 21}, "encoding": {"x": {"datum": 6.002}, "y": {"datum": -4.92}, "text": {"value": "= 26.991"}}}
 ]}
]}
],
"spacing": 37
}
